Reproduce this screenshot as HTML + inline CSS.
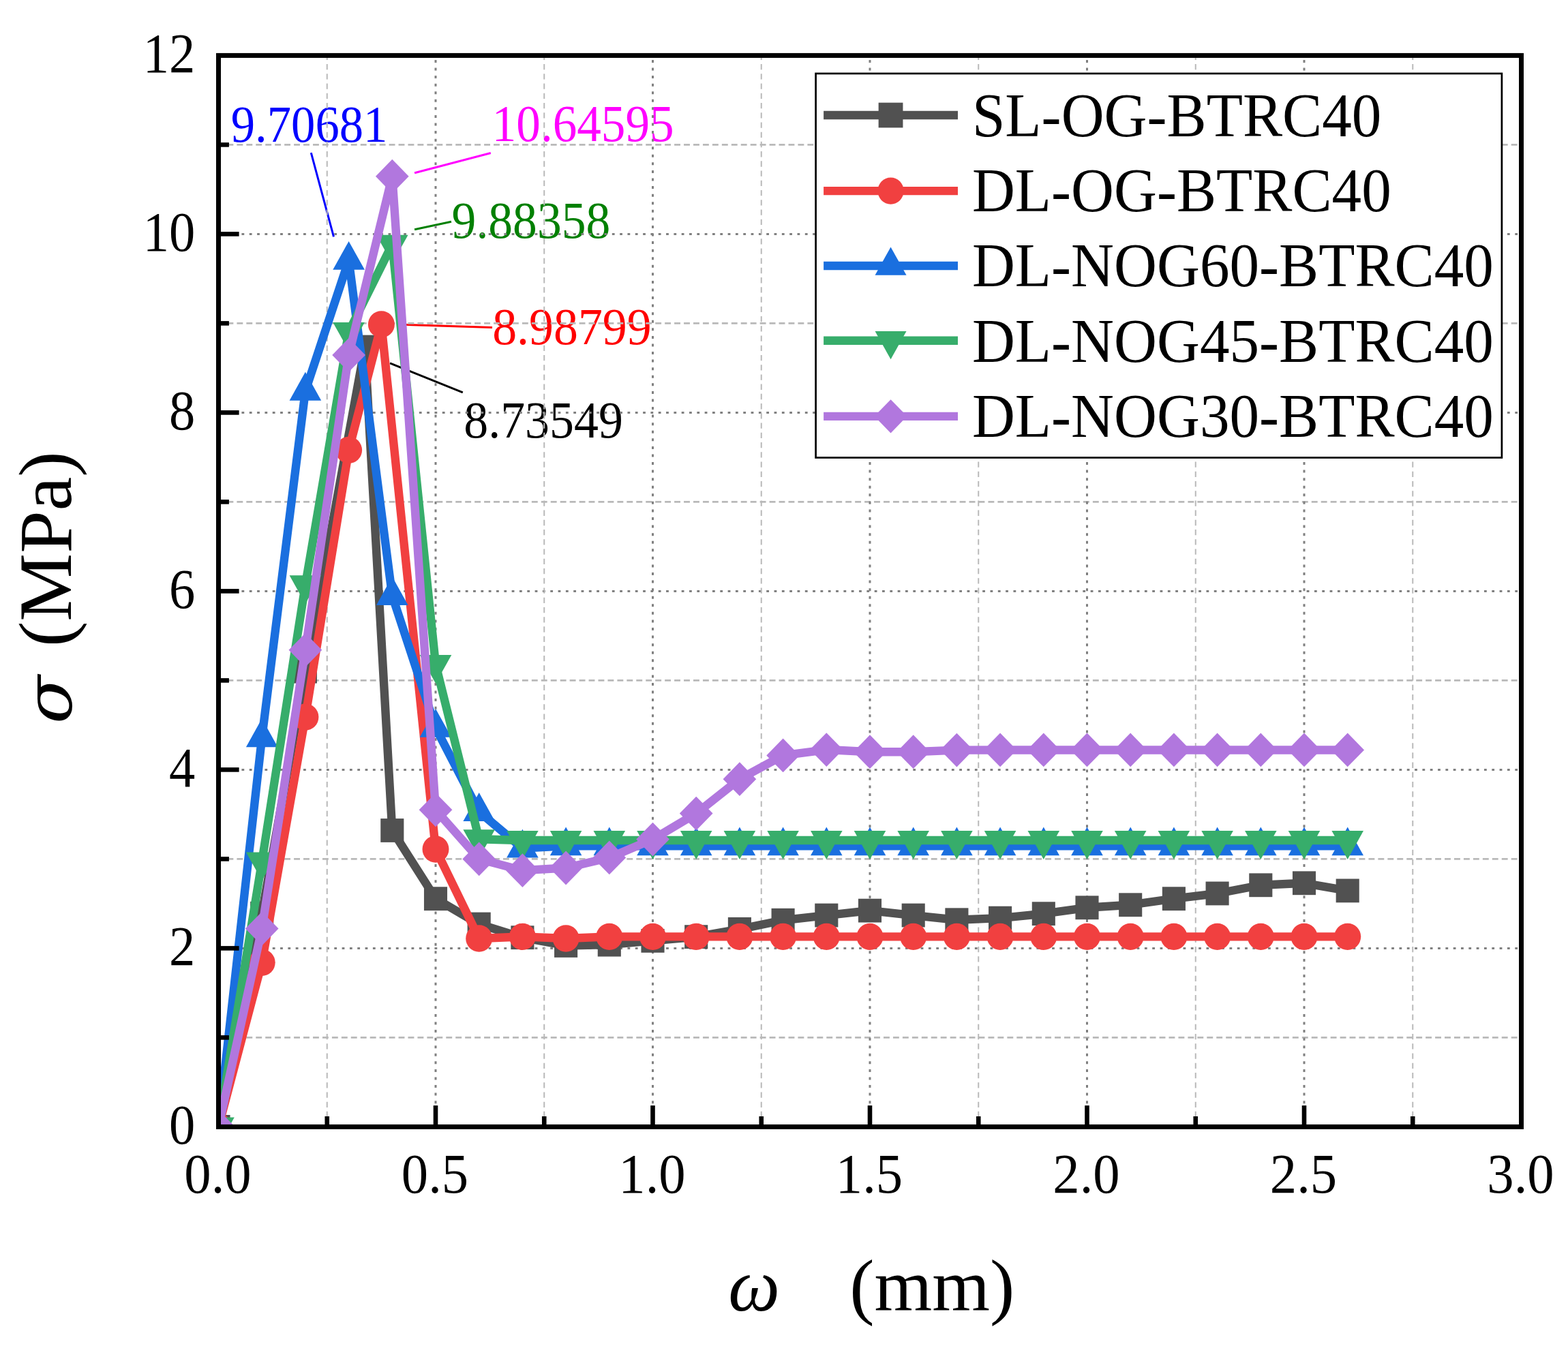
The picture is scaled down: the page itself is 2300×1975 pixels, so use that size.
<!DOCTYPE html>
<html lang="en">
<head>
<meta charset="utf-8">
<title></title>
<style>
html,body{margin:0;padding:0;background:#fff;}
body{width:2300px;height:1975px;overflow:hidden;}
svg{display:block;}
svg text{font-family:"Liberation Serif",serif;}
svg .gk{font-family:"DejaVu Serif","Liberation Serif",serif;font-style:italic;}
svg .it{font-style:italic;}
</style>
</head>
<body>
<svg width="2300" height="1975" viewBox="0 0 2300 1975">
<rect x="0" y="0" width="2300" height="1975" fill="#fff"/>
<defs><clipPath id="plot"><rect x="320.5" y="81.4" width="1911" height="1572"/></clipPath></defs>
<g id="annotations">
<line x1="456.3" y1="224.2" x2="489.5" y2="347.3" stroke="#0000FF" stroke-width="3"/>
<text transform="translate(338.7 208.4) scale(0.918 1)" font-size="77" fill="#0000FF">9.70681</text>
<line x1="608.1" y1="253.7" x2="719.8" y2="224.5" stroke="#FF00FF" stroke-width="3"/>
<text transform="translate(721.8 207.2) scale(0.924 1)" font-size="77" fill="#FF00FF">10.64595</text>
<line x1="608.1" y1="336.8" x2="662" y2="325.3" stroke="#008000" stroke-width="3"/>
<text transform="translate(662.6 349.2) scale(0.93 1)" font-size="77" fill="#008000">9.88358</text>
<line x1="596" y1="476.5" x2="722" y2="480.6" stroke="#FF0000" stroke-width="3"/>
<text transform="translate(722.2 505) scale(0.933 1)" font-size="77" fill="#FF0000">8.98799</text>
<line x1="572" y1="532.8" x2="678.8" y2="575.8" stroke="#000000" stroke-width="3"/>
<text transform="translate(680.2 642.1) scale(0.934 1)" font-size="77" fill="#000000">8.73549</text>
</g>
<g id="grid" fill="none">
<line x1="320.5" y1="1522.4" x2="2231.5" y2="1522.4" stroke="#B9B9B9" stroke-width="2.6" stroke-dasharray="8.9 5.05" stroke-dashoffset="1"/>
<line x1="320.5" y1="1391.4" x2="2231.5" y2="1391.4" stroke="#808080" stroke-width="3" stroke-dasharray="3.8 7.52" stroke-dashoffset="0"/>
<line x1="320.5" y1="1260.4" x2="2231.5" y2="1260.4" stroke="#B9B9B9" stroke-width="2.6" stroke-dasharray="8.9 5.05" stroke-dashoffset="1"/>
<line x1="320.5" y1="1129.4" x2="2231.5" y2="1129.4" stroke="#808080" stroke-width="3" stroke-dasharray="3.8 7.52" stroke-dashoffset="0"/>
<line x1="320.5" y1="998.4" x2="2231.5" y2="998.4" stroke="#B9B9B9" stroke-width="2.6" stroke-dasharray="8.9 5.05" stroke-dashoffset="1"/>
<line x1="320.5" y1="867.4" x2="2231.5" y2="867.4" stroke="#808080" stroke-width="3" stroke-dasharray="3.8 7.52" stroke-dashoffset="0"/>
<line x1="320.5" y1="736.4" x2="2231.5" y2="736.4" stroke="#B9B9B9" stroke-width="2.6" stroke-dasharray="8.9 5.05" stroke-dashoffset="1"/>
<line x1="320.5" y1="605.4" x2="2231.5" y2="605.4" stroke="#808080" stroke-width="3" stroke-dasharray="3.8 7.52" stroke-dashoffset="0"/>
<line x1="320.5" y1="474.4" x2="2231.5" y2="474.4" stroke="#B9B9B9" stroke-width="2.6" stroke-dasharray="8.9 5.05" stroke-dashoffset="1"/>
<line x1="320.5" y1="343.4" x2="2231.5" y2="343.4" stroke="#808080" stroke-width="3" stroke-dasharray="3.8 7.52" stroke-dashoffset="0"/>
<line x1="320.5" y1="212.4" x2="2231.5" y2="212.4" stroke="#B9B9B9" stroke-width="2.6" stroke-dasharray="8.9 5.05" stroke-dashoffset="1"/>
<line x1="479.75" y1="1653.4" x2="479.75" y2="81.4" stroke="#B9B9B9" stroke-width="2" stroke-dasharray="8.3 5.93" stroke-dashoffset="0"/>
<line x1="639" y1="1653.4" x2="639" y2="81.4" stroke="#808080" stroke-width="3" stroke-dasharray="4 7.57" stroke-dashoffset="0.5"/>
<line x1="798.25" y1="1653.4" x2="798.25" y2="81.4" stroke="#B9B9B9" stroke-width="2" stroke-dasharray="8.3 5.93" stroke-dashoffset="0"/>
<line x1="957.5" y1="1653.4" x2="957.5" y2="81.4" stroke="#808080" stroke-width="3" stroke-dasharray="4 7.57" stroke-dashoffset="0.5"/>
<line x1="1116.75" y1="1653.4" x2="1116.75" y2="81.4" stroke="#B9B9B9" stroke-width="2" stroke-dasharray="8.3 5.93" stroke-dashoffset="0"/>
<line x1="1276" y1="1653.4" x2="1276" y2="81.4" stroke="#808080" stroke-width="3" stroke-dasharray="4 7.57" stroke-dashoffset="0.5"/>
<line x1="1435.25" y1="1653.4" x2="1435.25" y2="81.4" stroke="#B9B9B9" stroke-width="2" stroke-dasharray="8.3 5.93" stroke-dashoffset="0"/>
<line x1="1594.5" y1="1653.4" x2="1594.5" y2="81.4" stroke="#808080" stroke-width="3" stroke-dasharray="4 7.57" stroke-dashoffset="0.5"/>
<line x1="1753.75" y1="1653.4" x2="1753.75" y2="81.4" stroke="#B9B9B9" stroke-width="2" stroke-dasharray="8.3 5.93" stroke-dashoffset="0"/>
<line x1="1913" y1="1653.4" x2="1913" y2="81.4" stroke="#808080" stroke-width="3" stroke-dasharray="4 7.57" stroke-dashoffset="0.5"/>
<line x1="2072.25" y1="1653.4" x2="2072.25" y2="81.4" stroke="#B9B9B9" stroke-width="2" stroke-dasharray="8.3 5.93" stroke-dashoffset="0"/>
</g>
<g id="curves" clip-path="url(#plot)">
<g id="sl-og">
<polyline points="320.5,1653.4 384.2,1340.31 447.9,985.17 535.17,509.05 575.3,1218.48 639,1318.7 702.7,1356.03 766.4,1375.68 830.1,1387.47 893.8,1386.16 957.5,1380.4 1021.2,1374.63 1084.9,1363.37 1148.6,1350.27 1212.3,1343.06 1276,1336.12 1339.7,1343.06 1403.4,1349.74 1467.1,1347.12 1530.8,1340.7 1594.5,1331.8 1658.2,1327.73 1721.9,1318.7 1785.6,1310.97 1849.3,1298.78 1913,1295.77 1976.7,1306.91" fill="none" stroke="#515151" stroke-width="12.4" stroke-linejoin="round"/>
<rect x="303.45" y="1636" width="34.1" height="34.8" fill="#515151"/>
<rect x="367.15" y="1322.91" width="34.1" height="34.8" fill="#515151"/>
<rect x="430.85" y="967.77" width="34.1" height="34.8" fill="#515151"/>
<rect x="518.12" y="491.65" width="34.1" height="34.8" fill="#515151"/>
<rect x="558.25" y="1201.08" width="34.1" height="34.8" fill="#515151"/>
<rect x="621.95" y="1301.3" width="34.1" height="34.8" fill="#515151"/>
<rect x="685.65" y="1338.63" width="34.1" height="34.8" fill="#515151"/>
<rect x="749.35" y="1358.28" width="34.1" height="34.8" fill="#515151"/>
<rect x="813.05" y="1370.07" width="34.1" height="34.8" fill="#515151"/>
<rect x="876.75" y="1368.76" width="34.1" height="34.8" fill="#515151"/>
<rect x="940.45" y="1363" width="34.1" height="34.8" fill="#515151"/>
<rect x="1004.15" y="1357.23" width="34.1" height="34.8" fill="#515151"/>
<rect x="1067.85" y="1345.97" width="34.1" height="34.8" fill="#515151"/>
<rect x="1131.55" y="1332.87" width="34.1" height="34.8" fill="#515151"/>
<rect x="1195.25" y="1325.66" width="34.1" height="34.8" fill="#515151"/>
<rect x="1258.95" y="1318.72" width="34.1" height="34.8" fill="#515151"/>
<rect x="1322.65" y="1325.66" width="34.1" height="34.8" fill="#515151"/>
<rect x="1386.35" y="1332.34" width="34.1" height="34.8" fill="#515151"/>
<rect x="1450.05" y="1329.72" width="34.1" height="34.8" fill="#515151"/>
<rect x="1513.75" y="1323.3" width="34.1" height="34.8" fill="#515151"/>
<rect x="1577.45" y="1314.39" width="34.1" height="34.8" fill="#515151"/>
<rect x="1641.15" y="1310.33" width="34.1" height="34.8" fill="#515151"/>
<rect x="1704.85" y="1301.3" width="34.1" height="34.8" fill="#515151"/>
<rect x="1768.55" y="1293.57" width="34.1" height="34.8" fill="#515151"/>
<rect x="1832.25" y="1281.38" width="34.1" height="34.8" fill="#515151"/>
<rect x="1895.95" y="1278.37" width="34.1" height="34.8" fill="#515151"/>
<rect x="1959.65" y="1289.51" width="34.1" height="34.8" fill="#515151"/>
</g>
<g id="dl-og">
<polyline points="320.5,1653.4 384.2,1412.36 447.9,1052.11 511.6,660.42 559.38,475.97 639,1245.99 702.7,1376.99 766.4,1374.37 830.1,1376.99 893.8,1374.37 957.5,1374.37 1021.2,1374.37 1084.9,1374.37 1148.6,1374.37 1212.3,1374.37 1276,1374.37 1339.7,1374.37 1403.4,1374.37 1467.1,1374.37 1530.8,1374.37 1594.5,1374.37 1658.2,1374.37 1721.9,1374.37 1785.6,1374.37 1849.3,1374.37 1913,1374.37 1976.7,1374.37" fill="none" stroke="#F14040" stroke-width="12.4" stroke-linejoin="round"/>
<ellipse cx="320.5" cy="1653.4" rx="19.5" ry="19.65" fill="#F14040"/>
<ellipse cx="384.2" cy="1412.36" rx="19.5" ry="19.65" fill="#F14040"/>
<ellipse cx="447.9" cy="1052.11" rx="19.5" ry="19.65" fill="#F14040"/>
<ellipse cx="511.6" cy="660.42" rx="19.5" ry="19.65" fill="#F14040"/>
<ellipse cx="559.38" cy="475.97" rx="19.5" ry="19.65" fill="#F14040"/>
<ellipse cx="639" cy="1245.99" rx="19.5" ry="19.65" fill="#F14040"/>
<ellipse cx="702.7" cy="1376.99" rx="19.5" ry="19.65" fill="#F14040"/>
<ellipse cx="766.4" cy="1374.37" rx="19.5" ry="19.65" fill="#F14040"/>
<ellipse cx="830.1" cy="1376.99" rx="19.5" ry="19.65" fill="#F14040"/>
<ellipse cx="893.8" cy="1374.37" rx="19.5" ry="19.65" fill="#F14040"/>
<ellipse cx="957.5" cy="1374.37" rx="19.5" ry="19.65" fill="#F14040"/>
<ellipse cx="1021.2" cy="1374.37" rx="19.5" ry="19.65" fill="#F14040"/>
<ellipse cx="1084.9" cy="1374.37" rx="19.5" ry="19.65" fill="#F14040"/>
<ellipse cx="1148.6" cy="1374.37" rx="19.5" ry="19.65" fill="#F14040"/>
<ellipse cx="1212.3" cy="1374.37" rx="19.5" ry="19.65" fill="#F14040"/>
<ellipse cx="1276" cy="1374.37" rx="19.5" ry="19.65" fill="#F14040"/>
<ellipse cx="1339.7" cy="1374.37" rx="19.5" ry="19.65" fill="#F14040"/>
<ellipse cx="1403.4" cy="1374.37" rx="19.5" ry="19.65" fill="#F14040"/>
<ellipse cx="1467.1" cy="1374.37" rx="19.5" ry="19.65" fill="#F14040"/>
<ellipse cx="1530.8" cy="1374.37" rx="19.5" ry="19.65" fill="#F14040"/>
<ellipse cx="1594.5" cy="1374.37" rx="19.5" ry="19.65" fill="#F14040"/>
<ellipse cx="1658.2" cy="1374.37" rx="19.5" ry="19.65" fill="#F14040"/>
<ellipse cx="1721.9" cy="1374.37" rx="19.5" ry="19.65" fill="#F14040"/>
<ellipse cx="1785.6" cy="1374.37" rx="19.5" ry="19.65" fill="#F14040"/>
<ellipse cx="1849.3" cy="1374.37" rx="19.5" ry="19.65" fill="#F14040"/>
<ellipse cx="1913" cy="1374.37" rx="19.5" ry="19.65" fill="#F14040"/>
<ellipse cx="1976.7" cy="1374.37" rx="19.5" ry="19.65" fill="#F14040"/>
</g>
<g id="dl-nog60">
<polyline points="320.5,1653.4 384.2,1082.24 447.9,573.7 511.6,381.78 575.3,873.95 639,1067.83 702.7,1190.97 766.4,1244.68 830.1,1241.41 893.8,1241.41 957.5,1241.41 1021.2,1241.41 1084.9,1241.41 1148.6,1241.41 1212.3,1241.41 1276,1241.41 1339.7,1241.41 1403.4,1241.41 1467.1,1241.41 1530.8,1241.41 1594.5,1241.41 1658.2,1241.41 1721.9,1241.41 1785.6,1241.41 1849.3,1241.41 1913,1241.41 1976.7,1241.41" fill="none" stroke="#1A6FDF" stroke-width="12.4" stroke-linejoin="round"/>
<polygon points="320.5,1625.53 343.8,1667.33 297.2,1667.33" fill="#1A6FDF"/>
<polygon points="384.2,1054.37 407.5,1096.17 360.9,1096.17" fill="#1A6FDF"/>
<polygon points="447.9,545.83 471.2,587.63 424.6,587.63" fill="#1A6FDF"/>
<polygon points="511.6,353.92 534.9,395.72 488.3,395.72" fill="#1A6FDF"/>
<polygon points="575.3,846.08 598.6,887.88 552,887.88" fill="#1A6FDF"/>
<polygon points="639,1039.96 662.3,1081.76 615.7,1081.76" fill="#1A6FDF"/>
<polygon points="702.7,1163.1 726,1204.9 679.4,1204.9" fill="#1A6FDF"/>
<polygon points="766.4,1216.81 789.7,1258.61 743.1,1258.61" fill="#1A6FDF"/>
<polygon points="830.1,1213.54 853.4,1255.34 806.8,1255.34" fill="#1A6FDF"/>
<polygon points="893.8,1213.54 917.1,1255.34 870.5,1255.34" fill="#1A6FDF"/>
<polygon points="957.5,1213.54 980.8,1255.34 934.2,1255.34" fill="#1A6FDF"/>
<polygon points="1021.2,1213.54 1044.5,1255.34 997.9,1255.34" fill="#1A6FDF"/>
<polygon points="1084.9,1213.54 1108.2,1255.34 1061.6,1255.34" fill="#1A6FDF"/>
<polygon points="1148.6,1213.54 1171.9,1255.34 1125.3,1255.34" fill="#1A6FDF"/>
<polygon points="1212.3,1213.54 1235.6,1255.34 1189,1255.34" fill="#1A6FDF"/>
<polygon points="1276,1213.54 1299.3,1255.34 1252.7,1255.34" fill="#1A6FDF"/>
<polygon points="1339.7,1213.54 1363,1255.34 1316.4,1255.34" fill="#1A6FDF"/>
<polygon points="1403.4,1213.54 1426.7,1255.34 1380.1,1255.34" fill="#1A6FDF"/>
<polygon points="1467.1,1213.54 1490.4,1255.34 1443.8,1255.34" fill="#1A6FDF"/>
<polygon points="1530.8,1213.54 1554.1,1255.34 1507.5,1255.34" fill="#1A6FDF"/>
<polygon points="1594.5,1213.54 1617.8,1255.34 1571.2,1255.34" fill="#1A6FDF"/>
<polygon points="1658.2,1213.54 1681.5,1255.34 1634.9,1255.34" fill="#1A6FDF"/>
<polygon points="1721.9,1213.54 1745.2,1255.34 1698.6,1255.34" fill="#1A6FDF"/>
<polygon points="1785.6,1213.54 1808.9,1255.34 1762.3,1255.34" fill="#1A6FDF"/>
<polygon points="1849.3,1213.54 1872.6,1255.34 1826,1255.34" fill="#1A6FDF"/>
<polygon points="1913,1213.54 1936.3,1255.34 1889.7,1255.34" fill="#1A6FDF"/>
<polygon points="1976.7,1213.54 2000,1255.34 1953.4,1255.34" fill="#1A6FDF"/>
</g>
<g id="dl-nog45">
<polyline points="320.5,1653.4 384.2,1264.33 447.9,858.23 511.6,486.85 575.3,358.6 639,974.82 702.7,1231.19 766.4,1233.02 830.1,1233.02 893.8,1233.02 957.5,1233.02 1021.2,1233.02 1084.9,1233.02 1148.6,1233.02 1212.3,1233.02 1276,1233.02 1339.7,1233.02 1403.4,1233.02 1467.1,1233.02 1530.8,1233.02 1594.5,1233.02 1658.2,1233.02 1721.9,1233.02 1785.6,1233.02 1849.3,1233.02 1913,1233.02 1976.7,1233.02" fill="none" stroke="#37AD6B" stroke-width="12.4" stroke-linejoin="round"/>
<polygon points="320.5,1681.27 343.8,1639.47 297.2,1639.47" fill="#37AD6B"/>
<polygon points="384.2,1292.2 407.5,1250.4 360.9,1250.4" fill="#37AD6B"/>
<polygon points="447.9,886.1 471.2,844.3 424.6,844.3" fill="#37AD6B"/>
<polygon points="511.6,514.71 534.9,472.91 488.3,472.91" fill="#37AD6B"/>
<polygon points="575.3,386.46 598.6,344.66 552,344.66" fill="#37AD6B"/>
<polygon points="639,1002.69 662.3,960.89 615.7,960.89" fill="#37AD6B"/>
<polygon points="702.7,1259.05 726,1217.25 679.4,1217.25" fill="#37AD6B"/>
<polygon points="766.4,1260.89 789.7,1219.09 743.1,1219.09" fill="#37AD6B"/>
<polygon points="830.1,1260.89 853.4,1219.09 806.8,1219.09" fill="#37AD6B"/>
<polygon points="893.8,1260.89 917.1,1219.09 870.5,1219.09" fill="#37AD6B"/>
<polygon points="957.5,1260.89 980.8,1219.09 934.2,1219.09" fill="#37AD6B"/>
<polygon points="1021.2,1260.89 1044.5,1219.09 997.9,1219.09" fill="#37AD6B"/>
<polygon points="1084.9,1260.89 1108.2,1219.09 1061.6,1219.09" fill="#37AD6B"/>
<polygon points="1148.6,1260.89 1171.9,1219.09 1125.3,1219.09" fill="#37AD6B"/>
<polygon points="1212.3,1260.89 1235.6,1219.09 1189,1219.09" fill="#37AD6B"/>
<polygon points="1276,1260.89 1299.3,1219.09 1252.7,1219.09" fill="#37AD6B"/>
<polygon points="1339.7,1260.89 1363,1219.09 1316.4,1219.09" fill="#37AD6B"/>
<polygon points="1403.4,1260.89 1426.7,1219.09 1380.1,1219.09" fill="#37AD6B"/>
<polygon points="1467.1,1260.89 1490.4,1219.09 1443.8,1219.09" fill="#37AD6B"/>
<polygon points="1530.8,1260.89 1554.1,1219.09 1507.5,1219.09" fill="#37AD6B"/>
<polygon points="1594.5,1260.89 1617.8,1219.09 1571.2,1219.09" fill="#37AD6B"/>
<polygon points="1658.2,1260.89 1681.5,1219.09 1634.9,1219.09" fill="#37AD6B"/>
<polygon points="1721.9,1260.89 1745.2,1219.09 1698.6,1219.09" fill="#37AD6B"/>
<polygon points="1785.6,1260.89 1808.9,1219.09 1762.3,1219.09" fill="#37AD6B"/>
<polygon points="1849.3,1260.89 1872.6,1219.09 1826,1219.09" fill="#37AD6B"/>
<polygon points="1913,1260.89 1936.3,1219.09 1889.7,1219.09" fill="#37AD6B"/>
<polygon points="1976.7,1260.89 2000,1219.09 1953.4,1219.09" fill="#37AD6B"/>
</g>
<g id="dl-nog30">
<polyline points="320.5,1653.4 384.2,1362.58 447.9,953.86 511.6,520.91 575.3,258.77 639,1188.35 702.7,1260.4 766.4,1277.17 830.1,1273.5 893.8,1258.44 957.5,1231.58 1021.2,1193.59 1084.9,1143.16 1148.6,1108.44 1212.3,1100.06 1276,1103.2 1339.7,1103.2 1403.4,1100.58 1467.1,1100.45 1530.8,1100.45 1594.5,1100.45 1658.2,1100.45 1721.9,1100.45 1785.6,1100.45 1849.3,1100.45 1913,1100.45 1976.7,1100.45" fill="none" stroke="#B177DE" stroke-width="12.4" stroke-linejoin="round"/>
<polygon points="320.5,1628.5 344.85,1653.4 320.5,1678.3 296.15,1653.4" fill="#B177DE"/>
<polygon points="384.2,1337.68 408.55,1362.58 384.2,1387.48 359.85,1362.58" fill="#B177DE"/>
<polygon points="447.9,928.96 472.25,953.86 447.9,978.76 423.55,953.86" fill="#B177DE"/>
<polygon points="511.6,496.01 535.95,520.91 511.6,545.81 487.25,520.91" fill="#B177DE"/>
<polygon points="575.3,233.87 599.65,258.77 575.3,283.67 550.95,258.77" fill="#B177DE"/>
<polygon points="639,1163.45 663.35,1188.35 639,1213.25 614.65,1188.35" fill="#B177DE"/>
<polygon points="702.7,1235.5 727.05,1260.4 702.7,1285.3 678.35,1260.4" fill="#B177DE"/>
<polygon points="766.4,1252.27 790.75,1277.17 766.4,1302.07 742.05,1277.17" fill="#B177DE"/>
<polygon points="830.1,1248.6 854.45,1273.5 830.1,1298.4 805.75,1273.5" fill="#B177DE"/>
<polygon points="893.8,1233.54 918.15,1258.44 893.8,1283.34 869.45,1258.44" fill="#B177DE"/>
<polygon points="957.5,1206.68 981.85,1231.58 957.5,1256.48 933.15,1231.58" fill="#B177DE"/>
<polygon points="1021.2,1168.69 1045.55,1193.59 1021.2,1218.49 996.85,1193.59" fill="#B177DE"/>
<polygon points="1084.9,1118.26 1109.25,1143.16 1084.9,1168.06 1060.55,1143.16" fill="#B177DE"/>
<polygon points="1148.6,1083.54 1172.95,1108.44 1148.6,1133.34 1124.25,1108.44" fill="#B177DE"/>
<polygon points="1212.3,1075.16 1236.65,1100.06 1212.3,1124.96 1187.95,1100.06" fill="#B177DE"/>
<polygon points="1276,1078.3 1300.35,1103.2 1276,1128.1 1251.65,1103.2" fill="#B177DE"/>
<polygon points="1339.7,1078.3 1364.05,1103.2 1339.7,1128.1 1315.35,1103.2" fill="#B177DE"/>
<polygon points="1403.4,1075.68 1427.75,1100.58 1403.4,1125.48 1379.05,1100.58" fill="#B177DE"/>
<polygon points="1467.1,1075.55 1491.45,1100.45 1467.1,1125.35 1442.75,1100.45" fill="#B177DE"/>
<polygon points="1530.8,1075.55 1555.15,1100.45 1530.8,1125.35 1506.45,1100.45" fill="#B177DE"/>
<polygon points="1594.5,1075.55 1618.85,1100.45 1594.5,1125.35 1570.15,1100.45" fill="#B177DE"/>
<polygon points="1658.2,1075.55 1682.55,1100.45 1658.2,1125.35 1633.85,1100.45" fill="#B177DE"/>
<polygon points="1721.9,1075.55 1746.25,1100.45 1721.9,1125.35 1697.55,1100.45" fill="#B177DE"/>
<polygon points="1785.6,1075.55 1809.95,1100.45 1785.6,1125.35 1761.25,1100.45" fill="#B177DE"/>
<polygon points="1849.3,1075.55 1873.65,1100.45 1849.3,1125.35 1824.95,1100.45" fill="#B177DE"/>
<polygon points="1913,1075.55 1937.35,1100.45 1913,1125.35 1888.65,1100.45" fill="#B177DE"/>
<polygon points="1976.7,1075.55 2001.05,1100.45 1976.7,1125.35 1952.35,1100.45" fill="#B177DE"/>
</g>
</g>
<g id="axes" stroke="#000" fill="none">
<rect x="320.5" y="81.4" width="1911" height="1572" stroke-width="7"/>
<line x1="320.5" y1="1522.4" x2="335.9" y2="1522.4" stroke-width="6.6"/>
<line x1="320.5" y1="1391.4" x2="350.6" y2="1391.4" stroke-width="6.6"/>
<line x1="320.5" y1="1260.4" x2="335.9" y2="1260.4" stroke-width="6.6"/>
<line x1="320.5" y1="1129.4" x2="350.6" y2="1129.4" stroke-width="6.6"/>
<line x1="320.5" y1="998.4" x2="335.9" y2="998.4" stroke-width="6.6"/>
<line x1="320.5" y1="867.4" x2="350.6" y2="867.4" stroke-width="6.6"/>
<line x1="320.5" y1="736.4" x2="335.9" y2="736.4" stroke-width="6.6"/>
<line x1="320.5" y1="605.4" x2="350.6" y2="605.4" stroke-width="6.6"/>
<line x1="320.5" y1="474.4" x2="335.9" y2="474.4" stroke-width="6.6"/>
<line x1="320.5" y1="343.4" x2="350.6" y2="343.4" stroke-width="6.6"/>
<line x1="320.5" y1="212.4" x2="335.9" y2="212.4" stroke-width="6.6"/>
<line x1="479.75" y1="1653.4" x2="479.75" y2="1638" stroke-width="6.6"/>
<line x1="639" y1="1653.4" x2="639" y2="1622.1" stroke-width="6.6"/>
<line x1="798.25" y1="1653.4" x2="798.25" y2="1638" stroke-width="6.6"/>
<line x1="957.5" y1="1653.4" x2="957.5" y2="1622.1" stroke-width="6.6"/>
<line x1="1116.75" y1="1653.4" x2="1116.75" y2="1638" stroke-width="6.6"/>
<line x1="1276" y1="1653.4" x2="1276" y2="1622.1" stroke-width="6.6"/>
<line x1="1435.25" y1="1653.4" x2="1435.25" y2="1638" stroke-width="6.6"/>
<line x1="1594.5" y1="1653.4" x2="1594.5" y2="1622.1" stroke-width="6.6"/>
<line x1="1753.75" y1="1653.4" x2="1753.75" y2="1638" stroke-width="6.6"/>
<line x1="1913" y1="1653.4" x2="1913" y2="1622.1" stroke-width="6.6"/>
<line x1="2072.25" y1="1653.4" x2="2072.25" y2="1638" stroke-width="6.6"/>
</g>
<g id="ticklabels">
<text transform="translate(286.4 1677.7) scale(0.925 1)" font-size="82.8" text-anchor="end">0</text>
<text transform="translate(286.4 1415.7) scale(0.925 1)" font-size="82.8" text-anchor="end">2</text>
<text transform="translate(286.4 1153.7) scale(0.925 1)" font-size="82.8" text-anchor="end">4</text>
<text transform="translate(286.4 891.7) scale(0.925 1)" font-size="82.8" text-anchor="end">6</text>
<text transform="translate(286.4 629.7) scale(0.925 1)" font-size="82.8" text-anchor="end">8</text>
<text transform="translate(286.4 367.7) scale(0.925 1)" font-size="82.8" text-anchor="end">10</text>
<text transform="translate(286.4 105.7) scale(0.925 1)" font-size="82.8" text-anchor="end">12</text>
<text transform="translate(319.5 1749.9) scale(0.95 1)" font-size="82.8" text-anchor="middle">0.0</text>
<text transform="translate(638 1749.9) scale(0.95 1)" font-size="82.8" text-anchor="middle">0.5</text>
<text transform="translate(956.5 1749.9) scale(0.95 1)" font-size="82.8" text-anchor="middle">1.0</text>
<text transform="translate(1275 1749.9) scale(0.95 1)" font-size="82.8" text-anchor="middle">1.5</text>
<text transform="translate(1593.5 1749.9) scale(0.95 1)" font-size="82.8" text-anchor="middle">2.0</text>
<text transform="translate(1912 1749.9) scale(0.95 1)" font-size="82.8" text-anchor="middle">2.5</text>
<text transform="translate(2230.5 1749.9) scale(0.95 1)" font-size="82.8" text-anchor="middle">3.0</text>
</g>
<g id="titles">
<text transform="translate(104.6 1062) rotate(-90) scale(1.1 1)" font-size="94.5" class="gk">σ</text>
<text transform="translate(104.1 949) rotate(-90) scale(1.025 1)" font-size="109.5">(MPa)</text>
<text transform="translate(1068.2 1923) scale(0.985 1)" font-size="109" class="it">ω</text>
<text transform="translate(1246.2 1922.7)" font-size="109">(mm)</text>
</g>
<g id="legend">
<rect x="1196.6" y="107.9" width="1006.3" height="563.6" fill="#fff" stroke="#000" stroke-width="2.7"/>
<line x1="1208.1" y1="169" x2="1405" y2="169" stroke="#515151" stroke-width="12.4"/>
<rect x="1288.65" y="150.65" width="35.8" height="36.7" fill="#515151"/>
<text transform="translate(1425.9 199.7) scale(0.961 1)" font-size="90.7">SL-OG-BTRC40</text>
<line x1="1208.1" y1="280.1" x2="1405" y2="280.1" stroke="#F14040" stroke-width="12.4"/>
<ellipse cx="1306.55" cy="280.1" rx="19.1" ry="19.65" fill="#F14040"/>
<text transform="translate(1425.9 309.5) scale(0.961 1)" font-size="90.7">DL-OG-BTRC40</text>
<line x1="1208.1" y1="390" x2="1405" y2="390" stroke="#1A6FDF" stroke-width="12.4"/>
<polygon points="1306.55,362.4 1329.55,403.8 1283.55,403.8" fill="#1A6FDF"/>
<text transform="translate(1425.9 419.6) scale(0.961 1)" font-size="90.7">DL-NOG60-BTRC40</text>
<line x1="1208.1" y1="499.7" x2="1405" y2="499.7" stroke="#37AD6B" stroke-width="12.4"/>
<polygon points="1306.55,527.3 1329.55,485.9 1283.55,485.9" fill="#37AD6B"/>
<text transform="translate(1425.9 530.7) scale(0.961 1)" font-size="90.7">DL-NOG45-BTRC40</text>
<line x1="1208.1" y1="610.85" x2="1405" y2="610.85" stroke="#B177DE" stroke-width="12.4"/>
<polygon points="1306.55,586.25 1330.55,610.85 1306.55,635.45 1282.55,610.85" fill="#B177DE"/>
<text transform="translate(1425.9 641.1) scale(0.961 1)" font-size="90.7">DL-NOG30-BTRC40</text>
</g>
</svg>
</body>
</html>
